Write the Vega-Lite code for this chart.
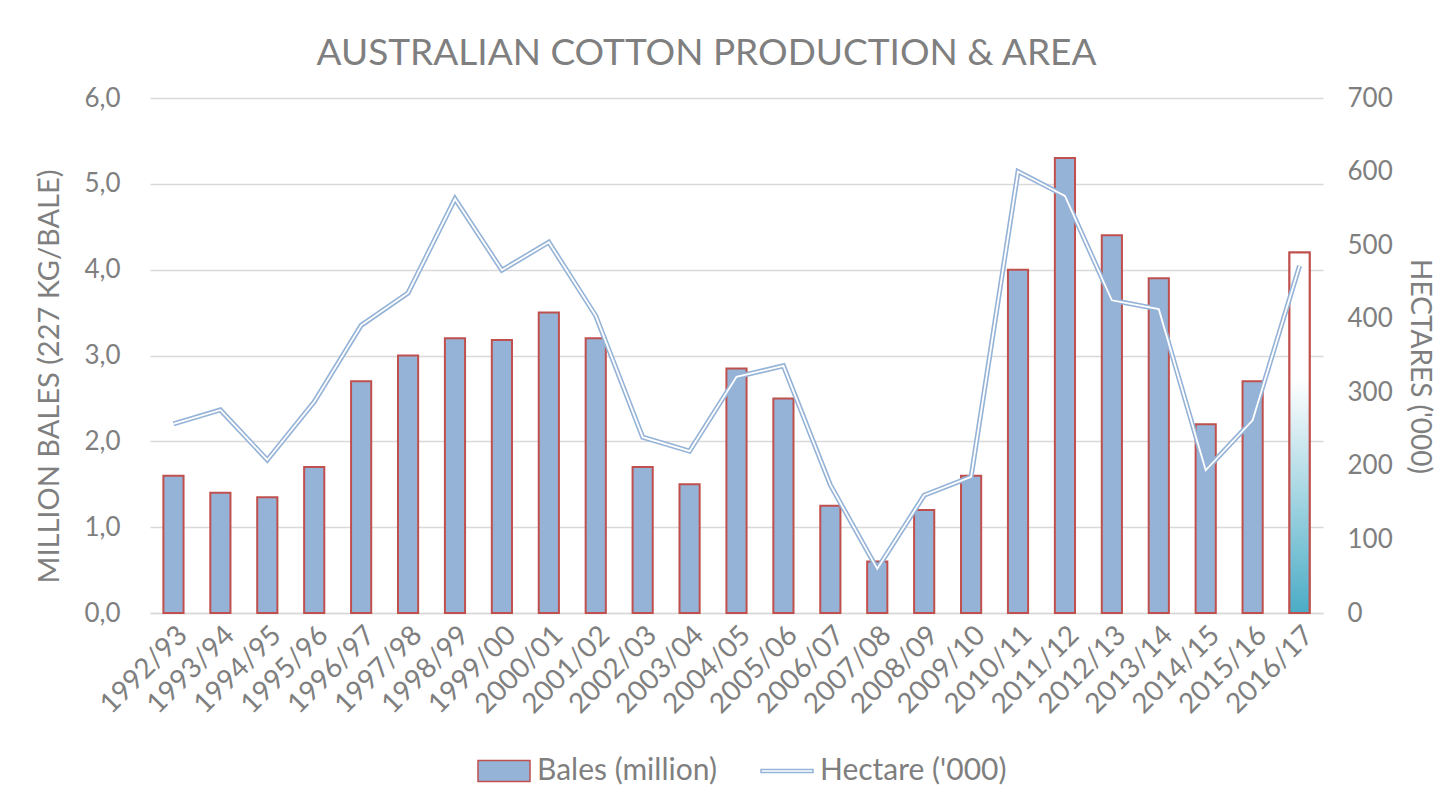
{
  "$schema": "https://vega.github.io/schema/vega-lite/v6.json",
  "width": 1173,
  "height": 515,
  "autosize": {"type": "none"},
  "padding": {"left": 150, "top": 98, "right": 118, "bottom": 191},
  "background": "white",
  "config": {"view": {"stroke": null}, "font": "Lato"},
  "title": {
    "text": "AUSTRALIAN COTTON PRODUCTION & AREA",
    "fontSize": 37,
    "font": "Lato",
    "fontWeight": "normal",
    "color": "#7F7F7F",
    "anchor": "middle",
    "dx": -30,
    "offset": 12
  },
  "data": {
    "values": [
      {"year": "1992/93", "bales": 1.6, "hectares": 257},
      {"year": "1993/94", "bales": 1.4, "hectares": 276},
      {"year": "1994/95", "bales": 1.35, "hectares": 208},
      {"year": "1995/96", "bales": 1.7, "hectares": 287},
      {"year": "1996/97", "bales": 2.7, "hectares": 391},
      {"year": "1997/98", "bales": 3.0, "hectares": 435},
      {"year": "1998/99", "bales": 3.2, "hectares": 563},
      {"year": "1999/00", "bales": 3.18, "hectares": 466},
      {"year": "2000/01", "bales": 3.5, "hectares": 504},
      {"year": "2001/02", "bales": 3.2, "hectares": 404},
      {"year": "2002/03", "bales": 1.7, "hectares": 239},
      {"year": "2003/04", "bales": 1.5, "hectares": 220},
      {"year": "2004/05", "bales": 2.85, "hectares": 321},
      {"year": "2005/06", "bales": 2.5, "hectares": 336},
      {"year": "2006/07", "bales": 1.25, "hectares": 174},
      {"year": "2007/08", "bales": 0.6, "hectares": 60},
      {"year": "2008/09", "bales": 1.2, "hectares": 160},
      {"year": "2009/10", "bales": 1.6, "hectares": 185},
      {"year": "2010/11", "bales": 4.0, "hectares": 600},
      {"year": "2011/12", "bales": 5.3, "hectares": 567},
      {"year": "2012/13", "bales": 4.4, "hectares": 425},
      {"year": "2013/14", "bales": 3.9, "hectares": 413},
      {"year": "2014/15", "bales": 2.2, "hectares": 194},
      {"year": "2015/16", "bales": 2.7, "hectares": 262},
      {"year": "2016/17", "bales": 4.2, "hectares": 472}
    ]
  },
  "encoding": {
    "x": {
      "field": "year",
      "type": "nominal",
      "sort": null,
      "scale": {"paddingInner": 0.57, "paddingOuter": 0.285},
      "axis": {
        "title": null,
        "labelAngle": -45,
        "labelFontSize": 28,
        "labelColor": "#7F7F7F",
        "labelFont": "Lato",
        "labelOverlap": false,
        "ticks": false,
        "domainColor": "#D9D9D9",
        "domainWidth": 1.5,
        "labelPadding": 8
      }
    }
  },
  "layer": [
    {
      "encoding": {
        "y": {
          "field": "bales",
          "type": "quantitative",
          "scale": {"domain": [0, 6]},
          "axis": {
            "title": "MILLION BALES (227 KG/BALE)",
            "titleFontSize": 29,
            "titleFont": "Lato",
            "titleFontWeight": "normal",
            "titleColor": "#7F7F7F",
            "titlePadding": 19,
            "titleY": 278,
            "values": [0, 1, 2, 3, 4, 5, 6],
            "format": ".1f",
            "labelExpr": "replace(datum.label, '.', ',')",
            "labelFontSize": 26,
            "labelFont": "Lato",
            "labelColor": "#7F7F7F",
            "labelPadding": 30,
            "grid": true,
            "gridColor": "#D9D9D9",
            "gridWidth": 1.5,
            "domain": false,
            "ticks": false
          }
        }
      },
      "layer": [
        {
          "mark": {"type": "bar", "fill": "#95B3D7", "stroke": "#C0504D", "strokeWidth": 2}
        },
        {
          "transform": [{"filter": "datum.year === '2016/17'"}],
          "mark": {
            "type": "bar",
            "stroke": "#C0504D",
            "strokeWidth": 2,
            "fill": {
              "gradient": "linear",
              "x1": 0, "y1": 0, "x2": 0, "y2": 1,
              "stops": [
                {"offset": 0, "color": "#ffffff"},
                {"offset": 0.35, "color": "#ffffff"},
                {"offset": 1, "color": "#4BACC6"}
              ]
            }
          }
        },
        {
          "transform": [{"filter": "false"}],
          "mark": {"type": "point", "filled": true, "size": 2704, "strokeWidth": 1.5, "opacity": 1},
          "encoding": {
            "shape": {
              "field": "series",
              "type": "nominal",
              "scale": {"domain": ["Bales (million)", "Hectare ('000)"], "range": ["M-1,-0.4H1V0.4H-1Z", "M-1,-0.06H1V0.06H-1Z"]},
              "legend": {
                "orient": "none",
                "legendX": 327,
                "legendY": 646,
                "direction": "horizontal",
                "title": null,
                "labelFontSize": 30,
                "labelFont": "Lato",
                "labelColor": "#7F7F7F",
                "labelLimit": 500,
                "labelOffset": 6,
                "columnPadding": 41,
                "symbolSize": 2704,
                "symbolStrokeWidth": 1.5
              }
            },
            "fill": {
              "field": "series",
              "type": "nominal",
              "scale": {"domain": ["Bales (million)", "Hectare ('000)"], "range": ["#95B3D7", "#ffffff"]},
              "legend": {
                "orient": "none",
                "legendX": 327,
                "legendY": 646,
                "direction": "horizontal",
                "title": null,
                "labelFontSize": 30,
                "labelFont": "Lato",
                "labelColor": "#7F7F7F",
                "labelLimit": 500,
                "labelOffset": 6,
                "columnPadding": 41,
                "symbolSize": 2704,
                "symbolStrokeWidth": 1.5
              }
            },
            "stroke": {
              "field": "series",
              "type": "nominal",
              "scale": {"domain": ["Bales (million)", "Hectare ('000)"], "range": ["#C0504D", "#95B3D7"]},
              "legend": {
                "orient": "none",
                "legendX": 327,
                "legendY": 646,
                "direction": "horizontal",
                "title": null,
                "labelFontSize": 30,
                "labelFont": "Lato",
                "labelColor": "#7F7F7F",
                "labelLimit": 500,
                "labelOffset": 6,
                "columnPadding": 41,
                "symbolSize": 2704,
                "symbolStrokeWidth": 1.5
              }
            }
          }
        }
      ]
    },
    {
      "encoding": {
        "y": {
          "field": "hectares",
          "type": "quantitative",
          "scale": {"domain": [0, 700]},
          "axis": {
            "orient": "right",
            "title": "HECTARES ('000)",
            "titleFontSize": 28,
            "titleFont": "Lato",
            "titleFontWeight": "normal",
            "titleColor": "#7F7F7F",
            "titlePadding": 12,
            "titleY": 268,
            "values": [0, 100, 200, 300, 400, 500, 600, 700],
            "labelFontSize": 26,
            "labelFont": "Lato",
            "labelColor": "#7F7F7F",
            "labelPadding": 24,
            "grid": false,
            "domain": false,
            "ticks": false
          }
        }
      },
      "layer": [
        {"mark": {"type": "line", "color": "#95B3D7", "strokeWidth": 5}},
        {"mark": {"type": "line", "color": "#ffffff", "strokeWidth": 1.8}}
      ]
    }
  ],
  "resolve": {"scale": {"y": "independent"}}
}
